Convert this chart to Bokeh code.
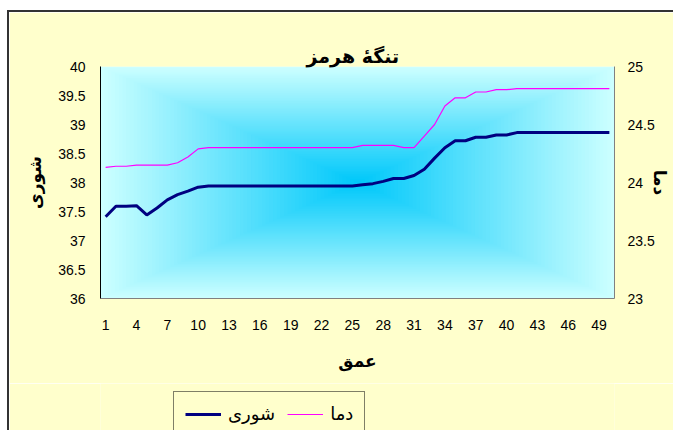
from bokeh.plotting import figure
from bokeh.layouts import column
from bokeh.models import (Range1d, LinearAxis, FixedTicker, CustomJSTickFormatter,
                          Legend, LegendItem, Title)
from bokeh.embed import file_html
from bokeh.resources import INLINE

# ---- data ----
depth = list(range(1, 51))
salinity = [37.41, 37.59, 37.59, 37.60, 37.44, 37.56, 37.70, 37.79, 37.85, 37.92,
            37.94, 37.94, 37.94, 37.94, 37.94, 37.94, 37.94, 37.94, 37.94, 37.94,
            37.94, 37.94, 37.94, 37.94, 37.94, 37.96, 37.98, 38.02, 38.07, 38.07,
            38.12, 38.23, 38.42, 38.60, 38.72, 38.72, 38.78, 38.78, 38.82, 38.82,
            38.86, 38.86, 38.86, 38.86, 38.86, 38.86, 38.86, 38.86, 38.86, 38.86]
temperature = [24.13, 24.14, 24.14, 24.15, 24.15, 24.15, 24.15, 24.17, 24.22, 24.29,
               24.30, 24.30, 24.30, 24.30, 24.30, 24.30, 24.30, 24.30, 24.30, 24.30,
               24.30, 24.30, 24.30, 24.30, 24.30, 24.32, 24.32, 24.32, 24.32, 24.30,
               24.30, 24.40, 24.50, 24.66, 24.73, 24.73, 24.78, 24.78, 24.80, 24.80,
               24.81, 24.81, 24.81, 24.81, 24.81, 24.81, 24.81, 24.81, 24.81, 24.81]
x_ticks = [1, 4, 7, 10, 13, 16, 19, 22, 25, 28, 31, 34, 37, 40, 43, 46, 49]
sal_ticks = [36, 36.5, 37, 37.5, 38, 38.5, 39, 39.5, 40]
temp_ticks = [23, 23.5, 24, 24.5, 25]

title_text = "تنگهٔ هرمز"
sal_label = "شوری"
temp_label = "دما"
depth_label = "عمق"

BG = "#FFFFCC"
AR_FONT = "DejaVu Sans"
NUM_FONT = "Liberation Sans"
SAL_COLOR = "#000080"
TMP_COLOR = "#FF00FF"

p = figure(width=666, height=373, output_backend="svg", toolbar_location=None,
           x_range=Range1d(0.5, 50.5), y_range=Range1d(36, 40),
           min_border_left=91, min_border_right=61, min_border_top=54,
           min_border_bottom=87, background_fill_color=BG, border_fill_color=BG,
           outline_line_color=None)
p.styles = {"margin-top": "10px", "margin-left": "7px",
            "border-top": "2px solid #333333", "border-left": "2px solid #333333"}
p.grid.visible = False

# ---- gradient background (rectangular, from centre) ----
edge = (204, 255, 255)
centre = (0, 200, 250)
N = 70
x0, x1 = 0.5, 50.5
y0, y1 = 36.0, 40.0
cx, cy = (x0 + x1) / 2, (y0 + y1) / 2
hw, hh = (x1 - x0) / 2, (y1 - y0) / 2
L, R, T, B, C = [], [], [], [], []
for i in range(N):
    f = 1 - i / N
    t = i / (N - 1)
    L.append(cx - hw * f); R.append(cx + hw * f)
    B.append(cy - hh * f); T.append(cy + hh * f)
    c = tuple(int(round(edge[k] + (centre[k] - edge[k]) * t)) for k in range(3))
    C.append("#%02x%02x%02x" % c)
p.quad(left=L, right=R, top=T, bottom=B, fill_color=C, line_color=None)

# ---- series ----
p.extra_y_ranges = {"temp": Range1d(23, 25)}
p.line(depth, salinity, line_color=SAL_COLOR, line_width=3)
p.line(depth, temperature, line_color=TMP_COLOR, line_width=1.2, y_range_name="temp")

fmt = CustomJSTickFormatter(code="return tick.toString();")

# ---- axes ----
xa = p.xaxis[0]
xa.ticker = FixedTicker(ticks=x_ticks)
xa.formatter = fmt
xa.axis_line_color = "#808080"
xa.major_tick_line_color = None
xa.minor_tick_line_color = None
xa.major_tick_in = 0
xa.major_tick_out = 0
xa.major_label_standoff = 21
xa.major_label_text_font = NUM_FONT
xa.major_label_text_font_size = "14px"
xa.major_label_text_color = "black"
xa.axis_label = depth_label
xa.axis_label_text_font = AR_FONT
xa.axis_label_text_font_style = "bold"
xa.axis_label_text_font_size = "17px"
xa.axis_label_text_color = "black"
xa.axis_label_standoff = 18

ya = p.yaxis[0]
ya.ticker = FixedTicker(ticks=sal_ticks)
ya.formatter = fmt
ya.axis_line_color = "black"
ya.major_tick_line_color = None
ya.minor_tick_line_color = None
ya.major_tick_in = 0
ya.major_tick_out = 0
ya.major_label_standoff = 15
ya.major_label_text_font = NUM_FONT
ya.major_label_text_font_size = "14px"
ya.major_label_text_color = "black"
ya.axis_label = sal_label
ya.axis_label_text_font = AR_FONT
ya.axis_label_text_font_style = "bold"
ya.axis_label_text_font_size = "17px"
ya.axis_label_text_color = "black"
ya.axis_label_standoff = 10

ra = LinearAxis(y_range_name="temp", ticker=FixedTicker(ticks=temp_ticks), formatter=fmt)
ra.axis_line_color = "#808080"
ra.major_tick_line_color = None
ra.minor_tick_line_color = None
ra.major_tick_in = 0
ra.major_tick_out = 0
ra.major_label_standoff = 13
ra.major_label_text_font = NUM_FONT
ra.major_label_text_font_size = "14px"
ra.major_label_text_color = "black"
ra.axis_label = temp_label
ra.axis_label_text_font = AR_FONT
ra.axis_label_text_font_style = "bold"
ra.axis_label_text_font_size = "17px"
ra.axis_label_text_color = "black"
ra.axis_label_standoff = -8
p.add_layout(ra, "right")

# ---- title ----
ttl = Title(text=title_text, align="left", offset=206, text_font=AR_FONT,
            text_color="black", text_font_style="bold", text_font_size="19px",
            standoff=-1)
p.add_layout(ttl, "above")

# ---- legend strip (separate small figure below the chart) ----
p2 = figure(width=666, height=47, output_backend="svg", toolbar_location=None,
            x_range=Range1d(-2, -1), y_range=Range1d(0, 1),
            x_axis_location=None, y_axis_location=None,
            min_border_left=0, min_border_right=0, min_border_top=0, min_border_bottom=0,
            background_fill_color=BG, border_fill_color=BG, outline_line_color=None)
p2.styles = {"margin-left": "7px", "border-left": "2px solid #333333"}
p2.grid.visible = False
# same series, outside this strip's ranges: only their legend keys show
k_sal = p2.line(depth, salinity, line_color=SAL_COLOR, line_width=3)
k_tmp = p2.line(depth, temperature, line_color=TMP_COLOR, line_width=1.2)
leg = Legend(items=[LegendItem(label=sal_label, renderers=[k_sal]),
                    LegendItem(label=temp_label, renderers=[k_tmp])],
             orientation="horizontal", location=(73, -6), margin=0,
             border_line_color="black", border_line_width=1,
             background_fill_color=BG, background_fill_alpha=1.0,
             label_text_font=AR_FONT, label_text_font_size="18px",
             label_text_color="black",
             glyph_width=36, padding=11, spacing=12, label_standoff=7)
p2.add_layout(leg, "center")

layout = column(p, p2, spacing=0)
open("out.html", "w").write(file_html(layout, INLINE))
